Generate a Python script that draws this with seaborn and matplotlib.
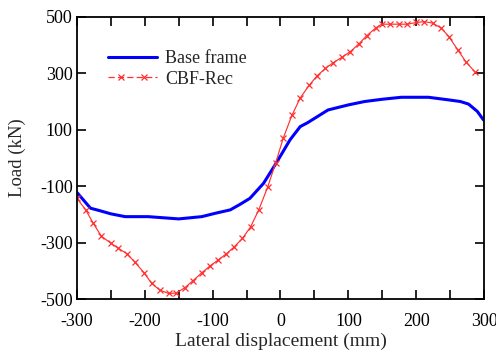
import seaborn as sns
import matplotlib.pyplot as plt
from matplotlib.lines import Line2D
from matplotlib.legend_handler import HandlerLine2D
from matplotlib.ticker import MultipleLocator

# Base frame (blue curve)
base_x = [-300, -290, -280, -266, -250, -229, -195, -150, -116, -96, -74, -60,
          -45, -25, -5, 14, 29, 40, 58, 70, 100, 124, 150, 178, 218, 247, 265,
          277, 290, 299]
base_y = [-122, -150, -178, -187, -198, -208, -208, -216, -208, -196, -184, -165,
          -143, -90, -13, 64, 111, 125, 152, 170, 188, 200, 208, 215, 215, 206,
          200, 191, 165, 135]

# CBF-Rec (red curve with x markers)
cbf_x = [-300, -287, -276, -264, -250, -239, -226, -215, -201, -190, -178, -165,
         -154, -141, -129, -116, -104, -92, -80, -68, -56, -44, -32, -19, -7,
         4, 17, 29, 42, 54, 66, 78, 90, 103, 115, 127, 140, 149, 162, 174, 187,
         200, 212, 224, 237, 248, 261, 273, 286]
cbf_y = [-143, -184, -231, -277, -302, -320, -340, -368, -407, -444, -468, -480,
         -479, -460, -435, -407, -383, -362, -340, -315, -285, -244, -184, -104,
         -17, 70, 152, 212, 257, 291, 317, 338, 356, 377, 403, 433, 460, 474,
         474, 474, 474, 480, 483, 478, 460, 430, 384, 341, 306]

x_ticks = [-300, -200, -100, 0, 100, 200, 300]
y_ticks = [-500, -300, -100, 100, 300, 500]


def main():
    sns.set_style("ticks")
    plt.rcParams['font.family'] = ['Liberation Serif', 'DejaVu Serif']
    plt.rcParams['axes.unicode_minus'] = False
    plt.rcParams['xtick.direction'] = 'in'
    plt.rcParams['ytick.direction'] = 'in'

    fig, ax = plt.subplots(figsize=(4.96, 3.51), dpi=100)
    fig.subplots_adjust(left=0.155, right=0.976, top=0.952, bottom=0.148)

    sns.lineplot(x=base_x, y=base_y, ax=ax, color="#0000ff", linewidth=2.2,
                 sort=False, label="_nolegend_")
    sns.lineplot(x=cbf_x, y=cbf_y, ax=ax, color="#ff3030", linewidth=0.85,
                 marker="x", markersize=5, markeredgewidth=0.9,
                 markeredgecolor="#ff3030", sort=False, label="_nolegend_")

    ax.set_xlim(-300, 300)
    ax.set_ylim(-500, 500)
    ax.set_xticks(x_ticks)
    ax.set_yticks(y_ticks)
    ax.xaxis.set_minor_locator(MultipleLocator(50))
    ax.tick_params(which="both", top=True, right=True, length=6.5, width=1.2,
                   labelsize=13, colors="black")
    ax.tick_params(axis="x", pad=10)
    ax.tick_params(axis="y", pad=3)
    for s in ax.spines.values():
        s.set_linewidth(1.3)
        s.set_color("black")

    ax.set_xlabel("Lateral displacement (mm)", fontsize=14, labelpad=2)
    ax.set_ylabel("Load (kN)", fontsize=13.5, labelpad=10)

    blue_h = Line2D([], [], color="#0000ff", linewidth=2.2)
    red_line = Line2D([], [], color="#ff3030", linewidth=0.9,
                      linestyle=(0, (5, 2.5)))
    red_mark = Line2D([], [], color="#ff3030", linestyle="none",
                      marker="x", markersize=5, markeredgewidth=0.9)
    ax.legend([blue_h, (red_line, red_mark)], ["Base frame", "CBF-Rec"],
              loc="upper left", bbox_to_anchor=(0.037, 0.94), frameon=False,
              fontsize=13, handlelength=2.7, labelspacing=0.2,
              handletextpad=0.45,
              handler_map={red_mark: HandlerLine2D(numpoints=2,
                                                   marker_pad=0.7)})

    fig.savefig("out.png", dpi=100)


if __name__ == '__main__':
    main()
